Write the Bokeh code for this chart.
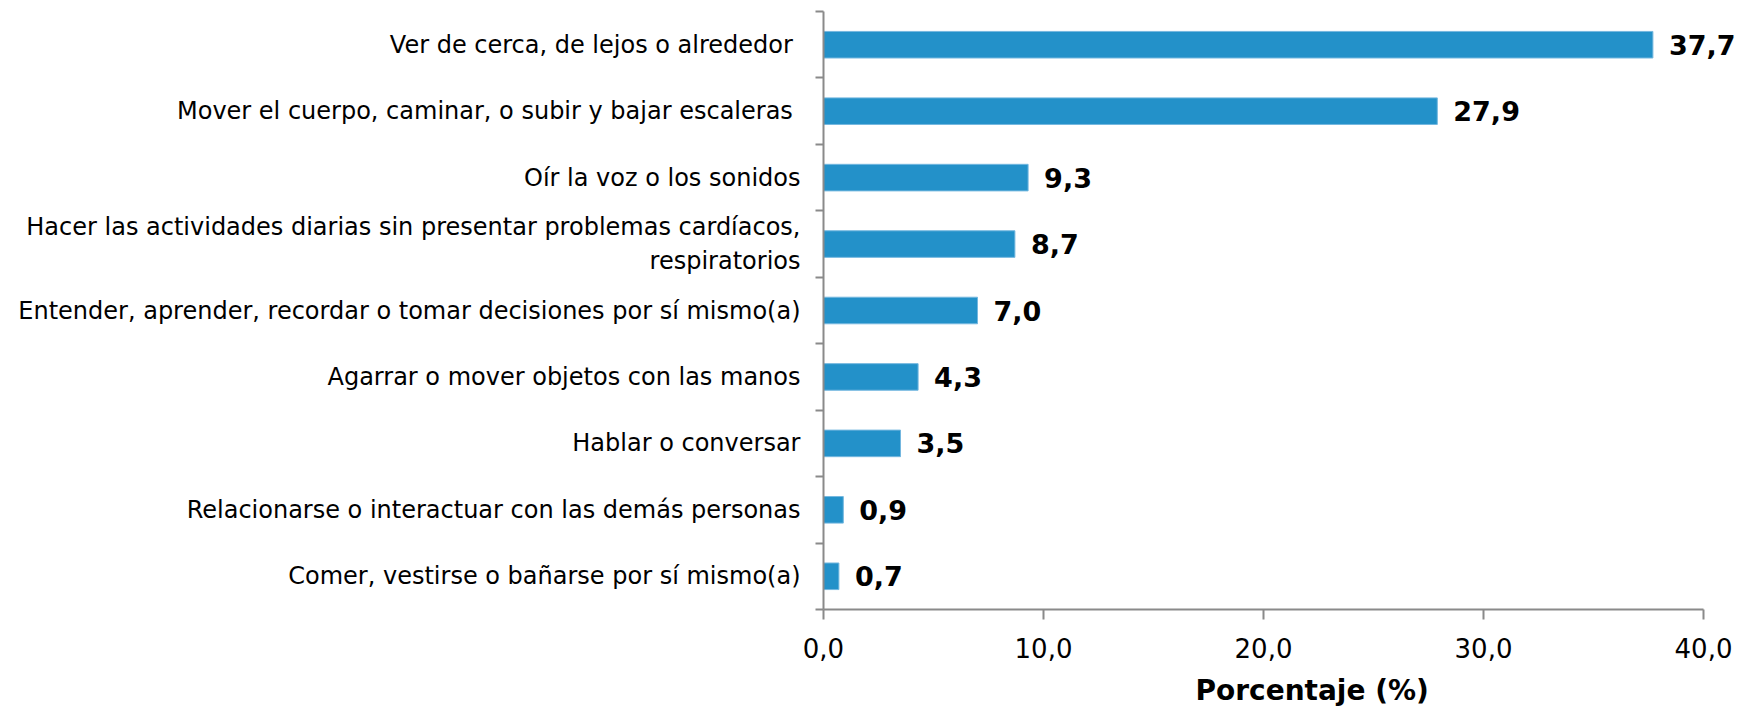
from bokeh.plotting import figure
from bokeh.models import Range1d, FixedTicker, Title, ColumnDataSource
from bokeh.core.properties import value
from bokeh.embed import file_html
from bokeh.resources import INLINE

categories = [
    "Ver de cerca, de lejos o alrededor ",
    "Mover el cuerpo, caminar, o subir y bajar escaleras ",
    "Oír la voz o los sonidos",
    "Hacer las actividades diarias sin presentar problemas cardíacos,\nrespiratorios",
    "Entender, aprender, recordar o tomar decisiones por sí mismo(a)",
    "Agarrar o mover objetos con las manos",
    "Hablar o conversar",
    "Relacionarse o interactuar con las demás personas",
    "Comer, vestirse o bañarse por sí mismo(a)",
]
values = [37.7, 27.9, 9.3, 8.7, 7.0, 4.3, 3.5, 0.9, 0.7]
x_ticks = [0, 10, 20, 30, 40]
x_tick_labels = ["0,0", "10,0", "20,0", "30,0", "40,0"]
x_title = "Porcentaje (%)"

n = len(categories)
ys = [n - i - 0.5 for i in range(n)]
labels = [f"{v:.1f}".replace(".", ",") for v in values]
src = ColumnDataSource(dict(y=ys, v=values, lab=labels))

FONT = "DejaVu Sans"
GRAY = "#8A8A8A"

W, H = 1735, 706
LEFT = 823          # frame left (px)
PX_PER_UNIT = 22.0  # 0..40 spans 880 px
x_end = (W - LEFT) / PX_PER_UNIT  # frame runs to the canvas edge so value labels are not clipped

p = figure(width=W, height=H, output_backend="svg", toolbar_location=None,
           x_range=Range1d(0, x_end), y_range=Range1d(0, n),
           min_border_left=LEFT, min_border_right=0, min_border_top=11, min_border_bottom=94)
p.outline_line_color = None
p.xgrid.grid_line_color = None
p.ygrid.grid_line_color = None
p.background_fill_color = "white"
p.border_fill_color = "white"

p.hbar(y="y", left=0, right="v", height=0.4, source=src,
       fill_color="#2391C9", line_color="#74B7DF", line_width=1)
p.text(x="v", y="y", text="lab", source=src, x_offset=16,
       text_baseline="middle", text_align="left",
       text_font=value(FONT), text_font_style="bold", text_font_size="27px",
       text_color="black")

xa = p.xaxis[0]
xa.bounds = (x_ticks[0], x_ticks[-1])
xa.ticker = FixedTicker(ticks=x_ticks, minor_ticks=[])
xa.major_label_overrides = {t: l for t, l in zip(x_ticks, x_tick_labels)}
xa.axis_line_color = GRAY
xa.axis_line_width = 2
xa.major_tick_line_color = GRAY
xa.major_tick_line_width = 2
xa.major_tick_out = 10
xa.major_tick_in = 0
xa.minor_tick_line_color = None
xa.major_label_text_font = FONT
xa.major_label_text_font_size = "26px"
xa.major_label_text_color = "black"
xa.major_label_standoff = 18
# tiny blank axis label used only as spacing so the title below sits lower
xa.axis_label = " "
xa.axis_label_text_font_size = "1px"
xa.axis_label_standoff = 7

ya = p.yaxis[0]
ya.ticker = FixedTicker(ticks=ys, minor_ticks=list(range(n + 1)))
ya.major_label_overrides = {y: c for y, c in zip(ys, categories)}
ya.axis_line_color = GRAY
ya.axis_line_width = 2
ya.major_tick_line_color = None
ya.major_tick_out = 0
ya.major_tick_in = 0
ya.minor_tick_line_color = GRAY
ya.minor_tick_line_width = 2
ya.minor_tick_out = 8
ya.minor_tick_in = 0
ya.major_label_text_font = FONT
ya.major_label_text_font_size = "24px"
ya.major_label_text_color = "black"
ya.major_label_standoff = 15

p.add_layout(Title(text=x_title, align="left", offset=372,
                   text_font=FONT, text_font_style="bold",
                   text_font_size="28px", text_color="black", standoff=0), "below")

open("out.html", "w").write(file_html(p, INLINE))
